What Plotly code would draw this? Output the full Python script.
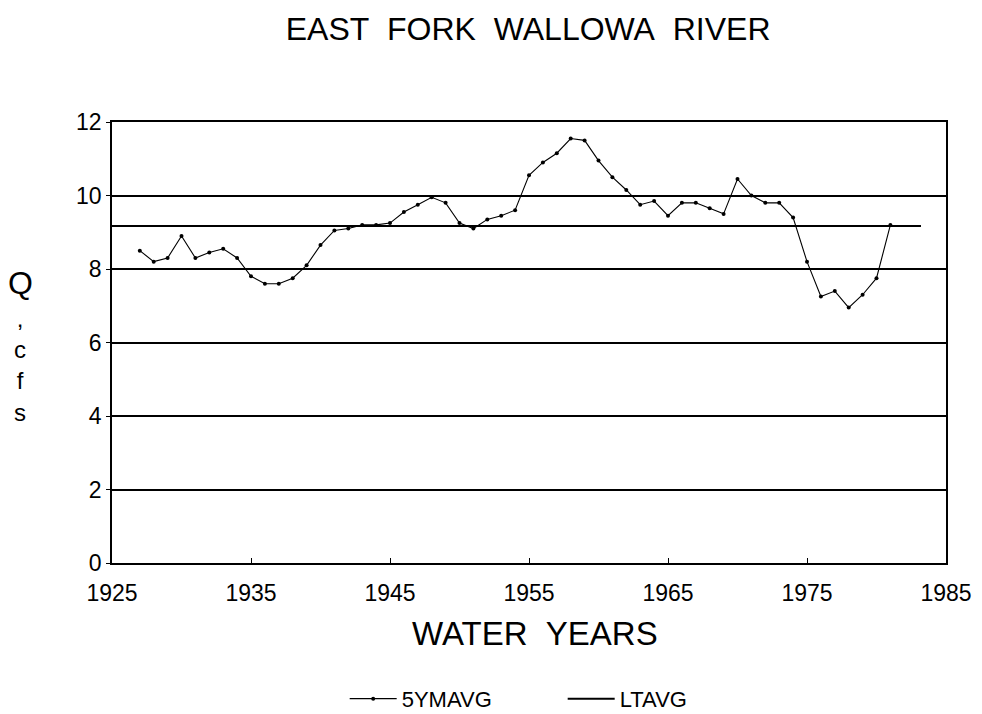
import plotly.graph_objects as go

# water years and 5-year moving average flow (cfs)
years = list(range(1927, 1982))
ymavg = [8.5, 8.2, 8.3, 8.9, 8.3, 8.45, 8.55, 8.3, 7.8, 7.6,
         7.6, 7.75, 8.1, 8.65, 9.05, 9.1, 9.2, 9.2, 9.25, 9.55,
         9.75, 9.95, 9.8, 9.25, 9.1, 9.35, 9.45, 9.6, 10.55, 10.9,
         11.15, 11.55, 11.5, 10.95, 10.5, 10.15, 9.75, 9.85, 9.45, 9.8,
         9.8, 9.65, 9.5, 10.45, 10.0, 9.8, 9.8, 9.4, 8.2, 7.25,
         7.4, 6.95, 7.3, 7.75, 9.2]

lt_years = [1925, 1983.2]
lt_avg = [9.17, 9.17]

FONT = "Arial, Liberation Sans, sans-serif"
SP = "&nbsp;"

fig = go.Figure()
fig.add_trace(go.Scatter(x=years, y=ymavg, mode="lines+markers", name="5YMAVG",
                         line=dict(color="black", width=1.1),
                         marker=dict(color="black", size=4)))
fig.add_trace(go.Scatter(x=lt_years, y=lt_avg, mode="lines", name="LTAVG",
                         line=dict(color="black", width=2)))

# the page body adds 8px around the plot, so the figure is 8px smaller
fig.update_layout(
    width=974, height=706,
    paper_bgcolor="white", plot_bgcolor="white",
    margin=dict(l=104, r=36, t=114, b=151, autoexpand=False),
    font=dict(family=FONT, color="black"),
    title=dict(text="EAST" + SP * 2 + "FORK" + SP * 2 + "WALLOWA" + SP * 2 + "RIVER",
               x=0.534, xanchor="center", y=0.971, yanchor="middle",
               font=dict(size=32)),
    showlegend=True,
    legend=dict(orientation="h", x=0.279, y=-0.308, xanchor="left", yanchor="middle",
                font=dict(size=22), itemwidth=47, entrywidth=156,
                bgcolor="rgba(0,0,0,0)"),
    xaxis=dict(range=[1925, 1985], tickvals=[1925, 1935, 1945, 1955, 1965, 1975, 1985],
               showgrid=False, zeroline=False, showline=True, mirror=True,
               linecolor="black", linewidth=1.5, ticks="inside", ticklen=5,
               tickcolor="black", tickfont=dict(size=23), ticklabelstandoff=9),
    yaxis=dict(range=[0, 12], tickvals=[0, 2, 4, 6, 8, 10, 12],
               showgrid=True, gridcolor="black", gridwidth=1.5, zeroline=False,
               showline=True, mirror=True, linecolor="black", linewidth=1.5,
               ticks="outside", ticklen=4, tickcolor="black", tickfont=dict(size=23),
               ticklabelstandoff=0),
)

fig.add_annotation(text="WATER" + SP * 2 + "YEARS", xref="paper", yref="paper",
                   x=0.507, y=-0.159, xanchor="center", yanchor="middle",
                   showarrow=False, font=dict(size=33))

# stacked y-axis title
fig.add_annotation(text="Q", xref="paper", yref="paper", x=-0.110, y=0.635,
                   xanchor="center", yanchor="middle", showarrow=False,
                   font=dict(size=32))
fig.add_annotation(text=",<br>c<br>f<br>s", xref="paper", yref="paper", x=-0.110, y=0.447,
                   xanchor="center", yanchor="middle", showarrow=False,
                   font=dict(size=24), align="center")

fig.write_html("out.html")
